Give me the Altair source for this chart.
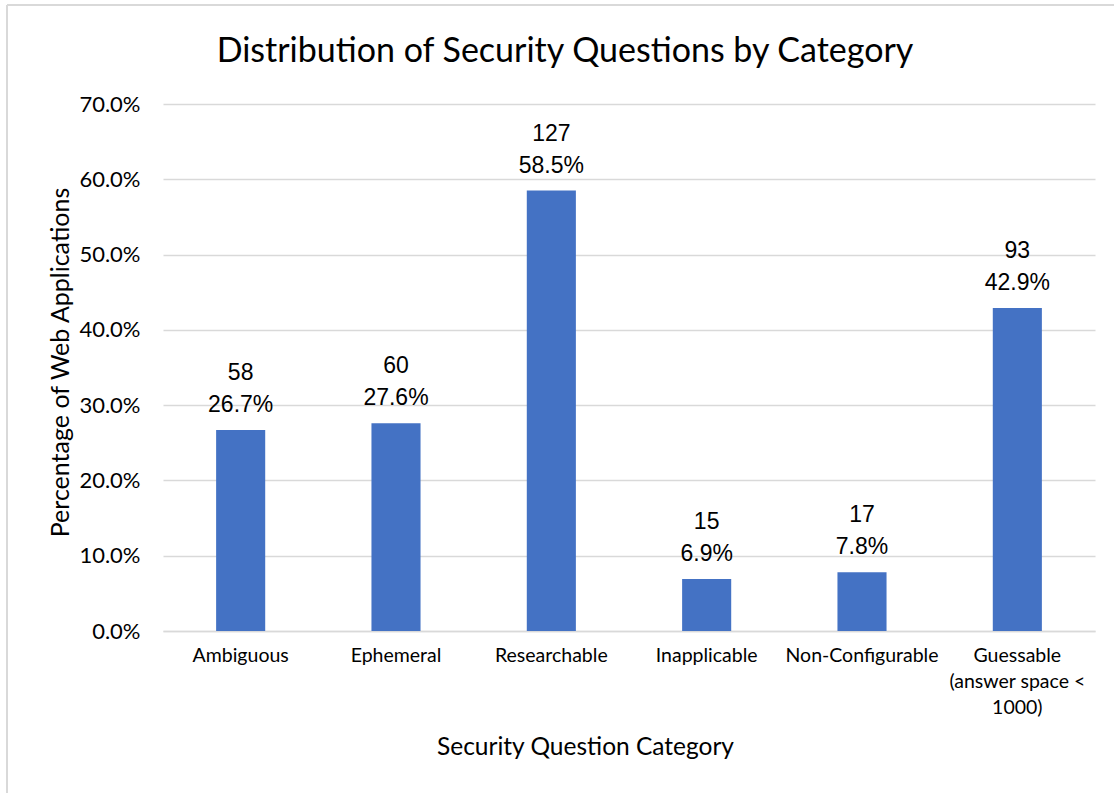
import altair as alt
import pandas as pd

categories = ["Ambiguous", "Ephemeral", "Researchable", "Inapplicable",
              "Non-Configurable", "Guessable|(answer space <|1000)"]
counts = [58, 60, 127, 15, 17, 93]
shares = [0.267, 0.276, 0.585, 0.069, 0.078, 0.429]
y_ticks = [0.0, 0.1, 0.2, 0.3, 0.4, 0.5, 0.6, 0.7]
chart_title = "Distribution of Security Questions by Category"

df = pd.DataFrame({"category": categories, "count": counts, "share": shares})

LABEL_FONT = "Lato"
BAR_COLOR = "#4472C4"
GRID = "#d9d9d9"

x_enc = alt.X(
    "category:N",
    sort=categories,
    scale=alt.Scale(paddingInner=0.684, paddingOuter=0.342),
    axis=alt.Axis(
        title="Security Question Category",
        labelExpr="split(datum.label, '|')",
        labelAngle=0,
        labelFont=LABEL_FONT,
        labelFontSize=19.5,
        labelColor="#000000",
        labelLineHeight=26,
        labelPadding=15,
        ticks=False,
        domain=True,
        domainColor=GRID,
        domainWidth=1.5,
        grid=False,
        titleFont=LABEL_FONT,
        titleFontSize=24.5,
        titleFontWeight="normal",
        titleColor="#000000",
        titleX=422,
        titleY=116,
        titleAlign="center",
        titleBaseline="middle",
    ),
)

y_enc = alt.Y(
    "share:Q",
    scale=alt.Scale(domain=[0, 0.7], nice=False),
    axis=alt.Axis(
        title="Percentage of Web Applications",
        values=y_ticks,
        format=".1%",
        labelFont=LABEL_FONT,
        labelFontSize=22,
        labelColor="#000000",
        labelPadding=23,
        ticks=False,
        domain=False,
        grid=True,
        gridColor=GRID,
        gridWidth=1.5,
        titleFont=LABEL_FONT,
        titleFontSize=25,
        titleFontWeight="normal",
        titleColor="#000000",
        titleX=-103,
        titleY=258,
        titleAlign="center",
        titleBaseline="middle",
    ),
)

base = alt.Chart(df)

bars = base.mark_bar(color=BAR_COLOR).encode(x=x_enc, y=y_enc)

pct_text = base.mark_text(
    font="Liberation Sans", fontSize=23, dy=-25, baseline="middle", color="#000000"
).encode(
    x=alt.X("category:N", sort=categories),
    y=alt.Y("share:Q"),
    text=alt.Text("share:Q", format=".1%"),
)

cnt_text = base.mark_text(
    font="Liberation Sans", fontSize=23, dy=-57, baseline="middle", color="#000000"
).encode(
    x=alt.X("category:N", sort=categories),
    y=alt.Y("share:Q"),
    text=alt.Text("count:Q"),
)

single = alt.Data(values=[{"title": chart_title}])
title_mark = alt.Chart(single).mark_text(
    font=LABEL_FONT, fontSize=34, baseline="alphabetic", align="center", color="#000000"
).encode(x=alt.value(402), y=alt.value(-42), text="title:N")

top_border = alt.Chart(single).mark_rule(color=GRID, strokeWidth=2).encode(
    x=alt.value(-156), x2=alt.value(960), y=alt.value(-99)
)
left_border = alt.Chart(single).mark_rule(color=GRID, strokeWidth=2).encode(
    x=alt.value(-156), y=alt.value(-99), y2=alt.value(700)
)

chart = (
    alt.layer(bars, pct_text, cnt_text, title_mark, top_border, left_border)
    .properties(
        width=932,
        height=527,
        autosize=alt.AutoSizeParams(type="none"),
        padding={"left": 163, "top": 104, "right": 19, "bottom": 162},
    )
    .configure(background="white")
    .configure_view(strokeWidth=0, stroke="transparent")
)

chart.save("out.html", embed_options={"renderer": "svg", "actions": False})
